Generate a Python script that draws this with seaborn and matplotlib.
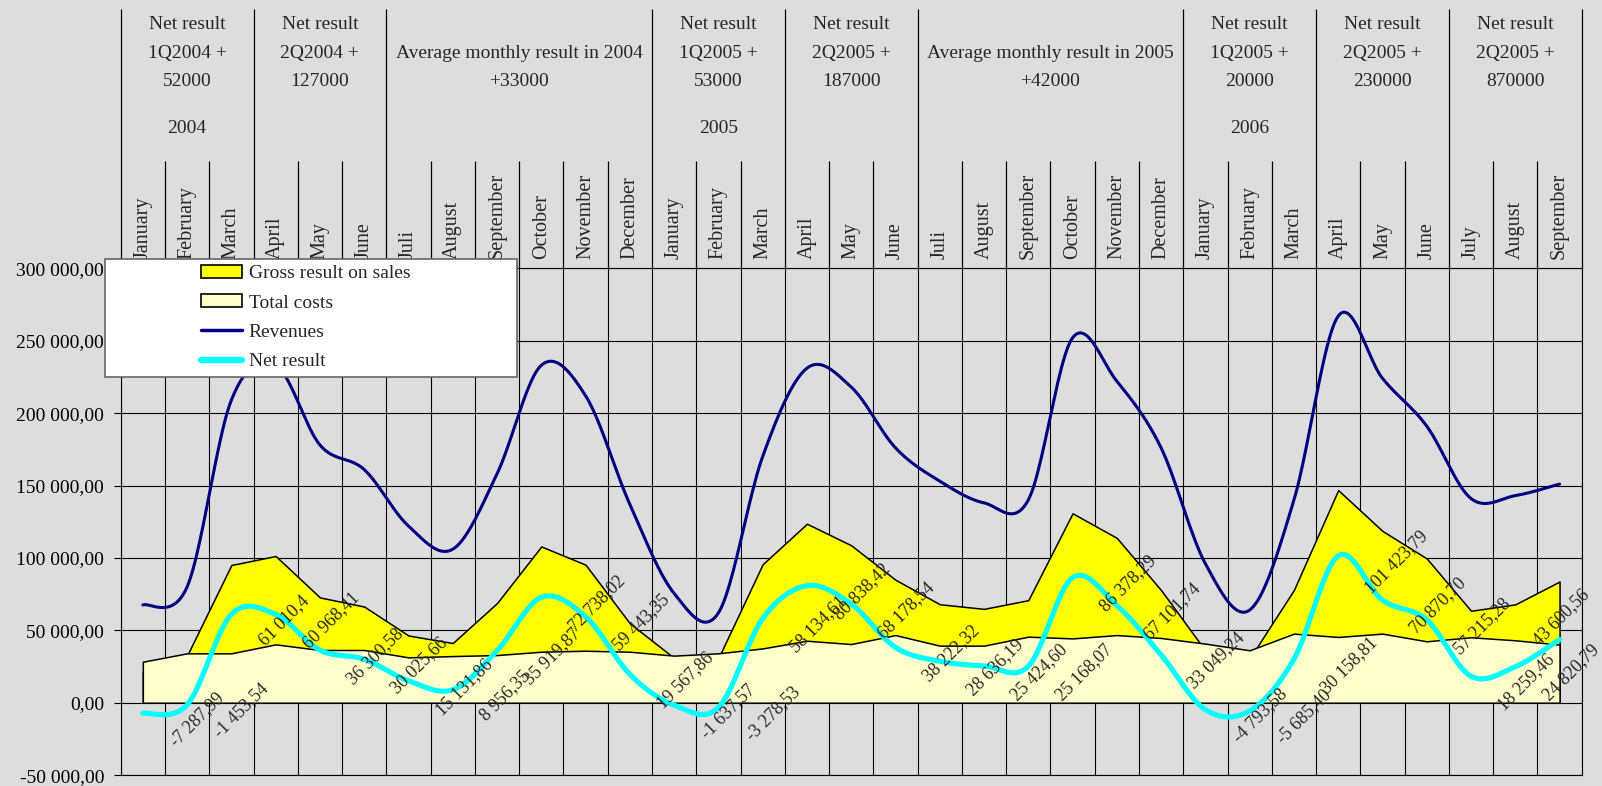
import numpy as np
import matplotlib
matplotlib.use("Agg")
import matplotlib.pyplot as plt
import seaborn as sns
from matplotlib.patches import Patch, Rectangle
from matplotlib.lines import Line2D
from matplotlib.ticker import FuncFormatter

# ---------------------------------------------------------------- data
months = ["January", "February", "March", "April", "May", "June",
          "Juli", "August", "September", "October", "November", "December",
          "January", "February", "March", "April", "May", "June",
          "Juli", "August", "September", "October", "November", "December",
          "January", "February", "March", "April", "May", "June",
          "July", "August", "September"]

revenues = [67500, 80000, 209000, 233000, 178000, 161000, 122000, 106000,
            158000, 233000, 212000, 137000, 75500, 62000, 170000, 231000,
            218000, 176000, 153000, 138000, 140000, 252000, 222000, 176000,
            96000, 64000, 140000, 267000, 224000, 191000, 141000, 143000,
            151000]

total_costs = [28300, 34100, 34100, 40300, 36400, 36400, 31300, 32200,
               32900, 35200, 35900, 35200, 32500, 34100, 37500, 42800,
               40500, 46700, 39400, 39400, 45600, 44400, 46700, 44700,
               40800, 36200, 47700, 45400, 47700, 42400, 45200, 43100,
               40100]

gross_result = [21000, 32600, 95100, 101300, 72700, 66400, 46400, 41200,
                68800, 107900, 95300, 54800, 30900, 30800, 95600, 123600,
                108700, 84900, 68000, 64800, 70800, 130800, 113800, 77700,
                36000, 30500, 77900, 146800, 118600, 99600, 63500, 67900,
                83700]

net_labels = ["-7 287,99", "-1 453,54", "61 010,4", "60 968,41", "36 300,58",
              "30 025,66", "15 131,86", "8 956,35", "35 919,87", "72 738,02",
              "59 443,35", "19 567,86", "-1 637,57", "-3 278,53", "58 134,61",
              "80 838,42", "68 178,54", "38 222,32", "28 636,19", "25 424,60",
              "25 168,07", "86 378,29", "67 101,74", "33 049,24", "-4 793,58",
              "-5 685,40", "30 158,81", "101 423,79", "70 870,70", "57 215,28",
              "18 259,46", "24 820,79", "43 600,56"]
net_result = [float(s.replace(" ", "").replace(",", ".")) for s in net_labels]

group_spans = [(0, 3), (3, 6), (6, 12), (12, 15), (15, 18), (18, 24),
               (24, 27), (27, 30), (30, 33)]
group_texts = [["Net result", "1Q2004 +", "52000"],
               ["Net result", "2Q2004 +", "127000"],
               ["Average monthly result in 2004", "+33000"],
               ["Net result", "1Q2005 +", "53000"],
               ["Net result", "2Q2005 +", "187000"],
               ["Average monthly result in 2005", "+42000"],
               ["Net result", "1Q2005 +", "20000"],
               ["Net result", "2Q2005 +", "230000"],
               ["Net result", "2Q2005 +", "870000"]]
year_labels = {0: "2004", 3: "2005", 6: "2006"}

series_names = ["Gross result on sales", "Total costs", "Revenues", "Net result"]

# ---------------------------------------------------------------- style
sns.set_style("white")
plt.rcParams["font.family"] = ["Liberation Serif", "DejaVu Serif"]
BG = "#dddddd"
YELLOW = "#ffff00"
LIGHT_YELLOW = "#ffffcc"
NAVY = "#000080"
CYAN = "#00ffff"

W, H = 1602, 786
fig = plt.figure(figsize=(W / 100, H / 100), dpi=100, facecolor=BG)

# pixel geometry of the plotting region
x_left, x_right = 120.7, 1581.7
y_top, y_bottom = 268.3, 775.1
ax = fig.add_axes([x_left / W, (H - y_bottom) / H,
                   (x_right - x_left) / W, (y_bottom - y_top) / H])
ax.set_facecolor(BG)

n = len(months)
xc = np.arange(n) + 0.5


def smooth(xv, yv, steps=24):
    """Cubic Bezier smoothing through every point (spreadsheet-style)."""
    pts = np.column_stack([xv, yv]).astype(float)
    P = np.vstack([pts[0], pts, pts[-1]])
    out = []
    for i in range(len(pts) - 1):
        p0, p1, p2, p3 = P[i], P[i + 1], P[i + 2], P[i + 3]
        c1 = p1 + (p2 - p0) / 6.0
        c2 = p2 - (p3 - p1) / 6.0
        t = np.linspace(0, 1, steps, endpoint=(i == len(pts) - 2))[:, None]
        out.append((1 - t) ** 3 * p1 + 3 * (1 - t) ** 2 * t * c1
                   + 3 * (1 - t) * t ** 2 * c2 + t ** 3 * p2)
    return np.vstack(out)


# areas
ax.fill_between(xc, gross_result, 0, facecolor=YELLOW, edgecolor="black",
                linewidth=1.1, zorder=1)
ax.fill_between(xc, total_costs, 0, facecolor=LIGHT_YELLOW, edgecolor="black",
                linewidth=1.1, zorder=1.1)

# smoothed lines
rev_s = smooth(xc, revenues)
net_s = smooth(xc, net_result)
sns.lineplot(x=rev_s[:, 0], y=rev_s[:, 1], ax=ax, color=NAVY, linewidth=2.2,
             sort=False, estimator=None, zorder=3)
sns.lineplot(x=net_s[:, 0], y=net_s[:, 1], ax=ax, color=CYAN, linewidth=3.7,
             sort=False, estimator=None, zorder=4)

# data labels of the net result
for i, (xv, yv, lab) in enumerate(zip(xc, net_result, net_labels)):
    if i == n - 1:
        ax.annotate(lab, (xv, yv), xytext=(2, 22), textcoords="offset pixels",
                    rotation=45, ha="center", va="center", fontsize=13,
                    zorder=6, annotation_clip=False)
    else:
        ax.annotate(lab, (xv, yv), xytext=(24, -6), textcoords="offset pixels",
                    rotation=45, ha="left", va="center", fontsize=13,
                    zorder=6, annotation_clip=False)

# axes, grid
ax.set_xlim(0, n)
ax.set_ylim(-50000, 300000)
ax.set_xticks(np.arange(n + 1))
ax.set_yticks(np.arange(-50000, 300001, 50000))
ax.grid(True, color="black", linewidth=0.8)
ax.set_axisbelow(True)
ax.tick_params(axis="x", length=0, labelbottom=False)
ax.tick_params(axis="y", direction="out", length=5, width=0.8, pad=7,
               labelsize=14, colors="black", left=True)
ax.yaxis.set_major_formatter(FuncFormatter(
    lambda v, _: f"{v:,.2f}".replace(",", " ").replace(".", ",")))
for sp in ax.spines.values():
    sp.set_visible(True)
    sp.set_color("black")
    sp.set_linewidth(0.8)

# ---------------------------------------------------------------- header
hx = fig.add_axes([x_left / W, (H - y_top) / H, (x_right - x_left) / W,
                   (y_top - 8.6) / H])
hx.set_xlim(0, n)
hx.set_ylim(y_top, 8.6)
hx.axis("off")
hx.patch.set_alpha(0)

bounds = sorted({s for s, _ in group_spans} | {n})
hx.vlines(bounds, 8.6, y_top, color="black", linewidth=0.9, clip_on=False)
month_bounds = [b for b in range(1, n) if b not in bounds]
hx.vlines(month_bounds, 160.8, y_top, color="black", linewidth=0.9,
          clip_on=False)

for i, m in enumerate(months):
    hx.text(i + 0.5, 259, m, rotation=90, ha="center", va="bottom",
            fontsize=14.5)

for gi, ((s, e), lines) in enumerate(zip(group_spans, group_texts)):
    cx = (s + e) / 2
    ys = [24.5, 53.5, 82.0] if len(lines) == 3 else [53.5, 82.0]
    for yy, t in zip(ys, lines):
        hx.text(cx, yy, t, ha="center", va="center", fontsize=14)
    if gi in year_labels:
        hx.text(cx, 129, year_labels[gi], ha="center", va="center",
                fontsize=14)

# ---------------------------------------------------------------- legend
box = Rectangle((105 / W, 1 - 377 / H), (516.5 - 105) / W, (377 - 259) / H,
                transform=fig.transFigure, facecolor="white",
                edgecolor="#666666", linewidth=1.2, zorder=10)
fig.patches.append(box)
handles = [Patch(facecolor=YELLOW, edgecolor="black", linewidth=1.2),
           Patch(facecolor=LIGHT_YELLOW, edgecolor="black", linewidth=1.2),
           Line2D([], [], color=NAVY, linewidth=2.5),
           Line2D([], [], color=CYAN, linewidth=4.5)]
leg = fig.legend(handles, series_names, loc="upper left",
                 bbox_to_anchor=(201 / W, 1 - 265 / H),
                 bbox_transform=fig.transFigure, frameon=False,
                 fontsize=14, borderpad=0, borderaxespad=0,
                 handlelength=2.1, handleheight=0.65, handletextpad=0.35,
                 labelspacing=0.62)
leg.set_zorder(11)

fig.savefig("out.png", dpi=100, facecolor=BG)
